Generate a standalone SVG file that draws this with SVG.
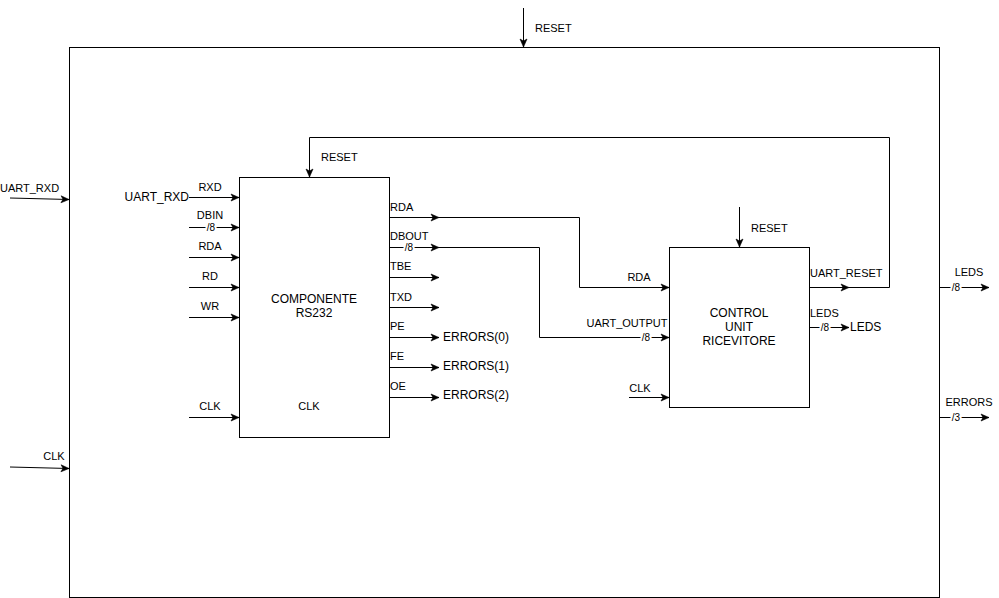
<svg xmlns="http://www.w3.org/2000/svg" width="999" height="598" viewBox="0 0 999 598">
<style>
.box{fill:#fff;stroke:#000;stroke-width:1}
.ln{fill:none;stroke:#000;stroke-width:1}
.ar{marker-end:url(#arr)}
text{font-family:"Liberation Sans",Arial,sans-serif;fill:#000}
.s{font-size:11px}
.m{font-size:12px}
.b{font-size:10px;stroke:#fff;stroke-width:4;paint-order:stroke;text-anchor:middle}
.c{text-anchor:middle}
</style>
<defs>
<marker id="arr" markerUnits="userSpaceOnUse" markerWidth="10" markerHeight="10" viewBox="0 0 10 10" refX="9" refY="5" orient="auto">
<path d="M1,1.5 L9,5 L1,8.5 L3,5 Z" fill="#000" stroke="#000" stroke-width="0.6"/>
</marker>
</defs>
<rect id="outer" class="box" x="69.5" y="47.5" width="870" height="550"/>
<g id="rs232">
<rect class="box" x="239.5" y="177.5" width="150" height="260"/>
<text class="m c" x="314" y="303">COMPONENTE</text>
<text class="m c" x="314" y="317">RS232</text>
<text class="s c" x="309" y="410">CLK</text>
</g>
<g id="control-unit">
<rect class="box" x="669.5" y="247.5" width="140" height="160"/>
<text class="m c" x="739" y="317">CONTROL</text>
<text class="m c" x="739" y="331">UNIT</text>
<text class="m c" x="739" y="345">RICEVITORE</text>
</g>
<g id="connectors">
<path class="ln ar" d="M523.5,8 V47"/>
<path class="ln ar" d="M10,198 L69,199.5"/>
<path class="ln ar" d="M10,467 L69,468.5"/>
<path class="ln ar" d="M189,197.5 H239"/>
<path class="ln ar" d="M189,227.5 H239"/>
<path class="ln ar" d="M189,257.5 H239"/>
<path class="ln ar" d="M189,287.5 H239"/>
<path class="ln ar" d="M189,317.5 H239"/>
<path class="ln ar" d="M189,417.5 H239"/>
<path class="ln ar" d="M390,217.5 H439"/>
<path class="ln ar" d="M390,247.5 H439"/>
<path class="ln ar" d="M390,277.5 H439"/>
<path class="ln ar" d="M390,307.5 H439"/>
<path class="ln ar" d="M390,337.5 H439"/>
<path class="ln ar" d="M390,367.5 H439"/>
<path class="ln ar" d="M390,397.5 H439"/>
<path class="ln ar" d="M439,217.5 H579.5 V287.5 H669"/>
<path class="ln ar" d="M439,247.5 H539.5 V337.5 H669"/>
<path class="ln ar" d="M629,397.5 H669"/>
<path class="ln ar" d="M739.5,207 V247"/>
<path class="ln ar" d="M810,287.5 H849"/>
<path class="ln ar" d="M849,287.5 H889.5 V137.5 H309.5 V177"/>
<path class="ln ar" d="M810,327.5 H849"/>
<path class="ln ar" d="M940,287.5 H989"/>
<path class="ln ar" d="M940,417.5 H989"/>
</g>
<g id="labels">
<text class="s" x="535" y="32">RESET</text>
<text class="s" x="321" y="161">RESET</text>
<text class="s" x="751" y="232">RESET</text>
<text class="s" x="0" y="192">UART_RXD</text>
<text class="s c" x="54" y="460">CLK</text>
<text class="m" x="189" y="201" text-anchor="end">UART_RXD</text>
<text class="s c" x="210" y="191">RXD</text>
<text class="s c" x="210" y="219">DBIN</text>
<text class="b" x="211" y="231">/8</text>
<text class="s c" x="210" y="250">RDA</text>
<text class="s c" x="210" y="280">RD</text>
<text class="s c" x="210" y="310">WR</text>
<text class="s c" x="210" y="410">CLK</text>
<text class="s" x="390" y="211">RDA</text>
<text class="s" x="390" y="240">DBOUT</text>
<text class="b" x="409" y="251">/8</text>
<text class="s" x="390" y="270">TBE</text>
<text class="s" x="390" y="301">TXD</text>
<text class="s" x="390" y="330">PE</text>
<text class="s" x="390" y="360">FE</text>
<text class="s" x="390" y="390">OE</text>
<text class="m" x="443" y="341">ERRORS(0)</text>
<text class="m" x="443" y="370">ERRORS(1)</text>
<text class="m" x="443" y="399">ERRORS(2)</text>
<text class="s c" x="639" y="281">RDA</text>
<text class="s c" x="627" y="327">UART_OUTPUT</text>
<text class="b" x="646" y="341">/8</text>
<text class="s c" x="640" y="392">CLK</text>
<text class="s" x="810" y="277">UART_RESET</text>
<text class="s" x="810" y="317">LEDS</text>
<text class="b" x="825" y="331">/8</text>
<text class="m" x="850" y="331">LEDS</text>
<text class="s c" x="969" y="276">LEDS</text>
<text class="b" x="956" y="291">/8</text>
<text class="s c" x="969" y="406">ERRORS</text>
<text class="b" x="956" y="421">/3</text>
</g>
</svg>
